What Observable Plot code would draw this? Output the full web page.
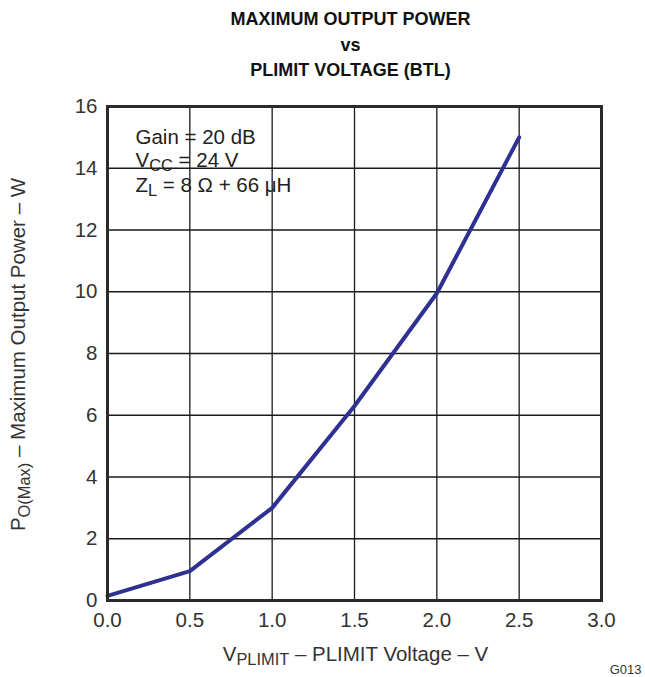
<!DOCTYPE html>
<html><head><meta charset="utf-8">
<script src="https://cdn.jsdelivr.net/npm/d3@7"></script>
<script src="https://cdn.jsdelivr.net/npm/@observablehq/plot@0.6"></script>
<style>
body{margin:0;background:#fff}
svg{font-family:"Liberation Sans",Arial,Helvetica,sans-serif}
</style>
</head><body><div id="chart"></div>
<script>
// Data
const voltage = [0.0, 0.5, 1.0, 1.5, 2.0, 2.5];
const power   = [0.15, 0.95, 3.0, 6.3, 9.95, 15.0];
const xTicks = [0, 0.5, 1.0, 1.5, 2.0, 2.5, 3.0];
const yTicks = [0, 2, 4, 6, 8, 10, 12, 14, 16];
const titleLines = ["MAXIMUM OUTPUT POWER", "vs", "PLIMIT VOLTAGE (BTL)"];
const noteLines = ["Gain = 20 dB", "VCC = 24 V", "ZL = 8 Ω + 66 μH"];
const xLabel = "VPLIMIT – PLIMIT Voltage – V";
const yLabel = "PO(Max) – Maximum Output Power – W";
const figId = "G013";

// rich-text (subscripts) definitions: [text, isSub]
const rich = {
  "VCC = 24 V": [["V",0],["CC",1],[" = 24 V",0]],
  "ZL = 8 Ω + 66 μH": [["Z",0],["L",1],[" = 8 Ω + 66 μH",0]],
  "VPLIMIT – PLIMIT Voltage – V": [["V",0],["PLIMIT",1],[" – PLIMIT Voltage – V",0]],
  "PO(Max) – Maximum Output Power – W": [["P",0],["O(Max)",1],[" – Maximum Output Power – W",0]]
};

const data = voltage.map((v, i) => ({v, p: power[i]}));
const ink = "#1a1a1a";
const txt = "#333";
const fs = 20.5;
const titleDy = [-82, -56, -31];
const noteDy = [37, 60, 85];

const chart = Plot.plot({
  width: 645,
  height: 677,
  marginLeft: 107,
  marginRight: 44,
  marginTop: 106,
  marginBottom: 77,
  style: {fontFamily: "'Liberation Sans', Arial, sans-serif", background: "#fff", overflow: "visible"},
  x: {domain: [0, 3], ticks: xTicks, tickFormat: d3.format(".1f"), label: null},
  y: {domain: [0, 16], ticks: yTicks, label: null},
  marks: [
    Plot.gridX(xTicks, {stroke: ink, strokeOpacity: 1, strokeWidth: 1.3}),
    Plot.gridY(yTicks, {stroke: ink, strokeOpacity: 1, strokeWidth: 1.3}),
    Plot.axisX(xTicks, {tickSize: 0, tickPadding: 12, fontSize: fs, fill: txt, tickFormat: d3.format(".1f")}),
    Plot.axisY(yTicks, {tickSize: 0, tickPadding: 10, fontSize: fs, fill: txt}),
    Plot.line(data, {x: "v", y: "p", stroke: "#2e3192", strokeWidth: 4, strokeLinejoin: "round"}),
    Plot.frame({stroke: "#2a2a2a", strokeWidth: 3}),
    // notes inside the plot
    ...noteLines.map((s, i) => Plot.text([s], {text: d => d, frameAnchor: "top-left", dx: 28, dy: noteDy[i],
      lineAnchor: "bottom", fontSize: fs, fill: "#222"})),
    // title
    ...titleLines.map((s, i) => Plot.text([s], {text: d => d, frameAnchor: "top", dx: -4, dy: titleDy[i],
      lineAnchor: "bottom", fontSize: 18, fontWeight: "bold", fill: "#111"})),
    // axis labels
    Plot.text([xLabel], {text: d => d, frameAnchor: "bottom", dx: 1, dy: 60, lineAnchor: "bottom", fontSize: fs, fill: txt}),
    Plot.text([yLabel], {text: d => d, frameAnchor: "left", textAnchor: "middle", dx: -89, dy: 1, rotate: -90, lineAnchor: "middle", fontSize: fs, fill: txt}),
    Plot.text([figId], {text: d => d, frameAnchor: "bottom-right", dx: 40, dy: 73, lineAnchor: "bottom", textAnchor: "end", fontSize: 13, fill: txt})
  ]
});

document.getElementById("chart").append(chart);

// Replace plain strings with tspans for subscripts
chart.querySelectorAll("text").forEach(t => {
  const s = t.textContent;
  if (rich[s]) {
    t.textContent = "";
    let shifted = false;
    rich[s].forEach(([str, sub]) => {
      const ts = document.createElementNS("http://www.w3.org/2000/svg", "tspan");
      ts.textContent = str;
      if (sub && !shifted) { ts.setAttribute("dy", "0.3em"); ts.setAttribute("font-size", "0.8em"); shifted = true; }
      else if (sub) { ts.setAttribute("font-size", "0.8em"); }
      else if (!sub && shifted) { ts.setAttribute("dy", "-0.24em"); shifted = false; }
      t.appendChild(ts);
    });
  }
});
</script>
</body></html>
